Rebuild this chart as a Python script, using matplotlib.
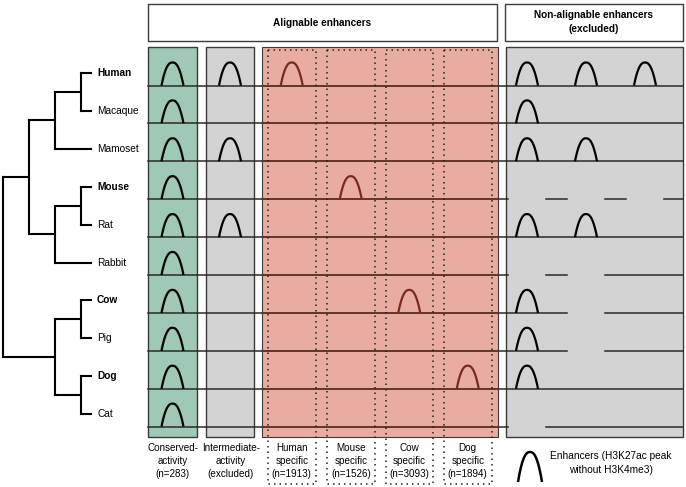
import numpy as np
import matplotlib.pyplot as plt
from matplotlib.patches import Rectangle

plt.rcParams["font.family"] = ["Liberation Sans", "DejaVu Sans"]

# ---- data ----
species = ["Human", "Macaque", "Mamoset", "Mouse", "Rat",
           "Rabbit", "Cow", "Pig", "Dog", "Cat"]
bold_species = ["Human", "Mouse", "Cow", "Dog"]
tree = (((("Human", "Macaque"), "Mamoset"), (("Mouse", "Rat"), "Rabbit")),
        (("Cow", "Pig"), ("Dog", "Cat")))

conserved_peaks = species
intermediate_peaks = ["Human", "Mamoset", "Rat"]
specific_cols = ["Human", "Mouse", "Cow", "Dog"]
specific_n = [1913, 1526, 3093, 1894]
conserved_n = 283

# non-alignable region: number of peaks and missing slots per species
nonalign_peaks = [3, 1, 2, 0, 2, 0, 1, 1, 1, 0]
nonalign_gaps = [[], [], [], [0, 1, 2], [], [0, 1], [1], [1], [], [0]]

# ---- colours ----
c_green = "#9fc8b5"
c_gray = "#d3d3d3"
c_red = "#e8ada0"
c_edge = "#3a3a3a"
c_line = "#2a2a2a"
c_redline = "#6b3328"
c_redpeak = "#7a2a1d"

fig = plt.figure(figsize=(6.86, 4.87), dpi=100)
ax = fig.add_axes([0, 0, 1, 1])
ax.set_xlim(0, 686)
ax.set_ylim(487, 0)
ax.axis("off")

row_y0, row_dy = 85.5, 37.9
row_y = {s: row_y0 + i * row_dy for i, s in enumerate(species)}
label_off = 12.5


def peak(xc, yb, color, w=22, h=23, lw=1.6, z=4):
    u = np.linspace(-1, 1, 60)
    ax.plot(xc + w / 2 * u, yb - h * (1 - np.abs(u) ** 2.4),
            color=color, lw=lw, zorder=z, solid_capstyle="butt")


# ---- tree ----
def height(node):
    if isinstance(node, str):
        return 0
    return 1 + max(height(n) for n in node)


def draw(node):
    if isinstance(node, str):
        return 91, row_y[node] - label_off
    xn = 107 - 26 * height(node)
    ys = []
    for ch in node:
        xc, yc = draw(ch)
        ax.plot([xn, xc], [yc, yc], color="black", lw=1.5,
                solid_capstyle="projecting")
        ys.append(yc)
    ax.plot([xn, xn], [min(ys), max(ys)], color="black", lw=1.5,
            solid_capstyle="projecting")
    return xn, np.mean(ys)


draw(tree)
for s in species:
    ax.text(97, row_y[s] - label_off, s, fontsize=7.3, va="center", ha="left",
            fontweight="bold" if s in bold_species else "normal")

# ---- header boxes ----
ax.add_patch(Rectangle((148, 4), 349, 37, fc="white", ec=c_edge, lw=1))
ax.add_patch(Rectangle((505, 4), 178, 37, fc="white", ec=c_edge, lw=1))
ax.text(322.5, 22.5, "Alignable enhancers", fontsize=7.2, fontweight="bold",
        ha="center", va="center")
ax.text(594, 22.5, "Non-alignable enhancers\n(excluded)", fontsize=7.2,
        fontweight="bold", ha="center", va="center", linespacing=1.5)

# ---- column boxes ----
top, bot = 47, 437
ax.add_patch(Rectangle((148, top), 49, bot - top, fc=c_green, ec=c_edge, lw=1, zorder=1))
ax.add_patch(Rectangle((206, top), 48, bot - top, fc=c_gray, ec=c_edge, lw=1, zorder=1))
ax.add_patch(Rectangle((262, top), 236, bot - top, fc=c_red, ec=c_edge, lw=0.8, zorder=1))
ax.add_patch(Rectangle((506, top), 177, bot - top, fc=c_gray, ec=c_edge, lw=1, zorder=1))

# specific sub-columns (dotted)
sub_x = [268, 327, 385.5, 444]
sub_w = 47.5
for x0 in sub_x:
    ax.add_patch(Rectangle((x0, 50), sub_w, 434, fill=False, ec="#222222",
                           lw=1.1, ls=(0, (1, 2.6)), zorder=3))

# ---- species rows ----
slot_x = [527, 586, 645]
for i, s in enumerate(species):
    y = row_y[s]
    # non-alignable line with gaps
    xs = [148]
    for g in nonalign_gaps[i]:
        xs += [slot_x[g] - 19, slot_x[g] + 19]
    xs.append(683)
    for a, b in zip(xs[::2], xs[1::2]):
        ax.plot([a, b], [y, y], color=c_line, lw=1.1, zorder=2)
    ax.plot([262, 498], [y, y], color=c_redline, lw=1.2, zorder=2.5)
    if s in conserved_peaks:
        peak(172.5, y, "black")
    if s in intermediate_peaks:
        peak(230, y, "black")
    if s in specific_cols:
        j = specific_cols.index(s)
        peak(sub_x[j] + sub_w / 2, y, c_redpeak)
    for k in range(nonalign_peaks[i]):
        peak(slot_x[k], y, "black")

# ---- bottom labels ----
lab_y = 461
lab_fs = 7.1
ax.text(172.5, lab_y, "Conserved-\nactivity\n(n=%d)" % conserved_n,
        fontsize=lab_fs, ha="center", va="center", linespacing=1.42)
ax.text(231, lab_y, "Intermediate-\nactivity\n(excluded)",
        fontsize=lab_fs, ha="center", va="center", linespacing=1.42)
for x0, s, n in zip(sub_x, specific_cols, specific_n):
    ax.text(x0 + sub_w / 2, lab_y, "%s\nspecific\n(n=%d)" % (s, n),
            fontsize=lab_fs, ha="center", va="center", linespacing=1.42)

# legend
peak(530, 482, "black", w=24, h=30, lw=1.8)
ax.text(611, 463, "Enhancers (H3K27ac peak\nwithout H3K4me3)", fontsize=7.3,
        ha="center", va="center", linespacing=1.4)

fig.savefig("out.png", dpi=100)
